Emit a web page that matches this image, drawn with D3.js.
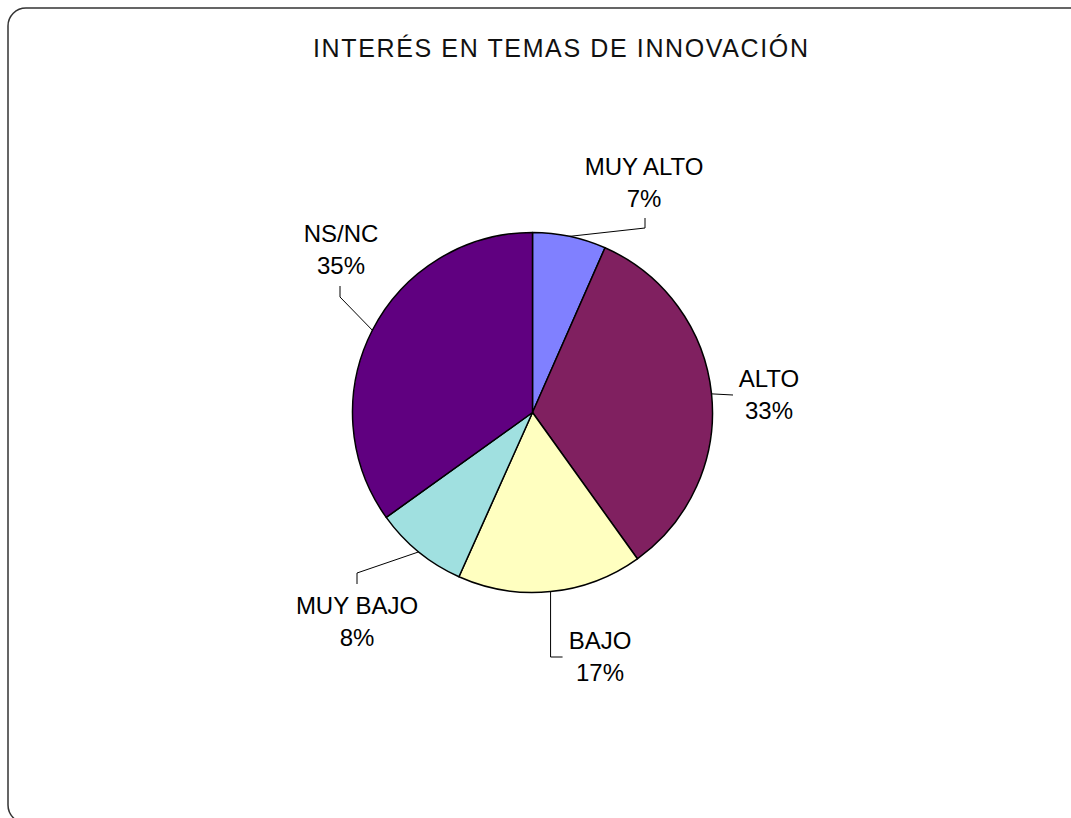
<!DOCTYPE html>
<html>
<head>
<meta charset="utf-8">
<script src="https://cdn.jsdelivr.net/npm/d3@7.9.0/dist/d3.min.js"></script>
<style>
  body { margin: 0; background: #fff; }
  text { font-family: "Liberation Sans", Arial, sans-serif; fill: #000; }
</style>
</head>
<body>
<svg id="chart" width="1071" height="818"></svg>
<script>
// Data
const categories = ['MUY ALTO', 'ALTO', 'BAJO', 'MUY BAJO', 'NS/NC'];
const values = [6.6, 33.5, 16.6, 8.4, 34.9];
const pctLabels = ['7%', '33%', '17%', '8%', '35%'];
const colors = ['#8080ff', '#802060', '#ffffc0', '#a0e0e0', '#600080'];

// Label placement (layout, not data)
const labelPos = [
  { x: 644, y: 175, elbow: [[645, 228], [645, 218]] },
  { x: 769, y: 387, elbow: [[733, 395]] },
  { x: 600, y: 649, elbow: null, bajo: true },
  { x: 357, y: 614, elbow: [[357, 573], [357, 584]] },
  { x: 341, y: 242, elbow: [[340, 297], [340, 286]] }
];

const svg = d3.select('#chart');
const cx = 532.5, cy = 412.5, r = 180;

// Outer rounded frame
svg.append('rect')
  .attr('x', 8).attr('y', 8)
  .attr('width', 1080).attr('height', 815)
  .attr('rx', 18)
  .attr('fill', 'none')
  .attr('stroke', '#333')
  .attr('stroke-width', 1.5);

svg.append('text')
  .attr('x', 560.5).attr('y', 57)
  .attr('text-anchor', 'middle')
  .attr('font-size', 25)
  .attr('textLength', 495)
  .attr('lengthAdjust', 'spacing')
  .style('fill', '#111')
  .text('INTERÉS EN TEMAS DE INNOVACIÓN');

const pie = d3.pie().sort(null).value(d => d.value);
const arc = d3.arc().innerRadius(0).outerRadius(r);

const data = categories.map((c, i) => ({ name: c, value: values[i], pct: pctLabels[i], color: colors[i] }));
const arcs = pie(data);

const g = svg.append('g').attr('transform', `translate(${cx},${cy})`);

g.selectAll('path')
  .data(arcs)
  .join('path')
  .attr('d', arc)
  .attr('fill', d => d.data.color)
  .attr('stroke', '#000')
  .attr('stroke-width', 1.5)
  .attr('stroke-linejoin', 'round');

// Leader lines from the arc mid-angle
arcs.forEach((a, i) => {
  const mid = (a.startAngle + a.endAngle) / 2;
  const sx = cx + r * Math.sin(mid);
  const sy = cy - r * Math.cos(mid);
  const lp = labelPos[i];
  let pts;
  if (lp.bajo) {
    pts = [[sx, sy], [sx, 657], [sx + 12, 657]];
  } else {
    pts = [[sx, sy]].concat(lp.elbow);
  }
  svg.append('path')
    .attr('d', d3.line()(pts))
    .attr('fill', 'none')
    .attr('stroke', '#000')
    .attr('stroke-width', 1);

  const t = svg.append('text')
    .attr('text-anchor', 'middle')
    .attr('font-size', 24);
  t.append('tspan').attr('x', lp.x).attr('y', lp.y).text(a.data.name);
  t.append('tspan').attr('x', lp.x).attr('y', lp.y + 32).text(a.data.pct);
});
</script>
</body>
</html>
